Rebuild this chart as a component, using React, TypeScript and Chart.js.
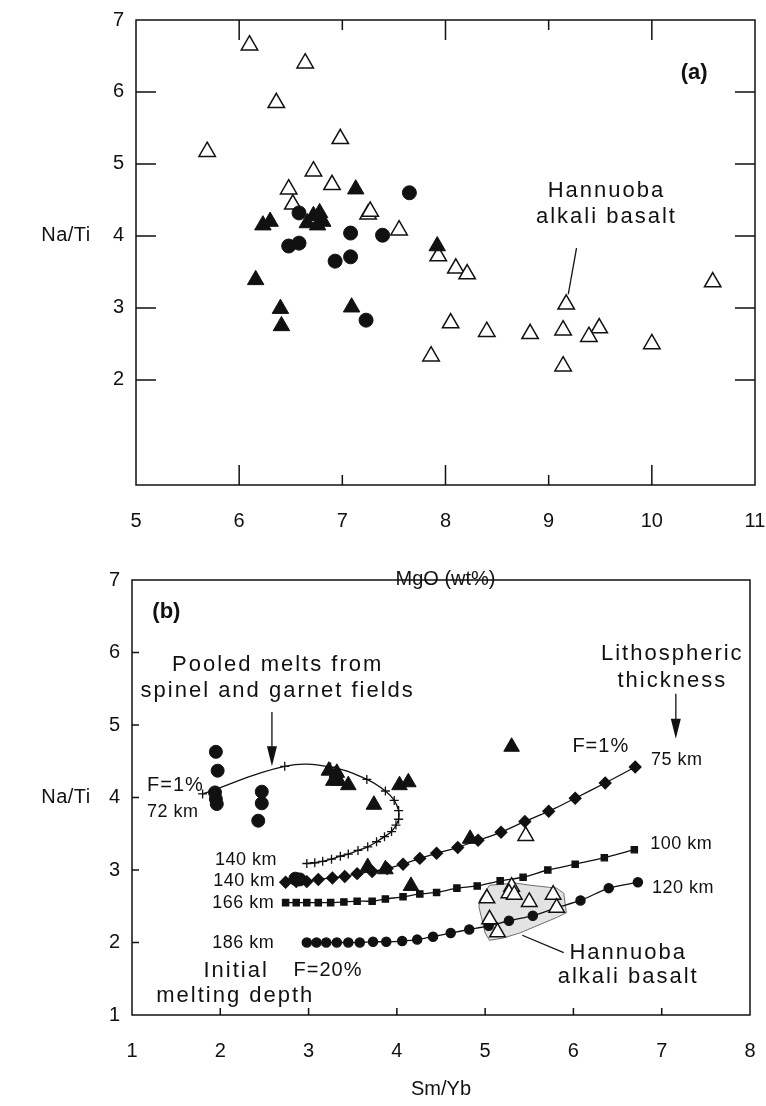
import React, { useEffect, useRef } from 'react';
import { Chart, registerables } from 'chart.js';

Chart.register(...registerables);

const FONT = '"Liberation Sans", Arial, Helvetica, sans-serif';
const INK = '#111111';

// ---------- Panel (a): Na/Ti vs MgO (wt%) ----------
const aXTicks = [5, 6, 7, 8, 9, 10, 11];
const aYTicks = [2, 3, 4, 5, 6, 7];
// Hannuoba alkali basalt (open triangles)
const aOpenTriX = [6.10, 6.64, 6.36, 5.69, 6.98, 6.72, 6.48, 6.90, 6.52, 7.25, 7.27, 7.55, 7.93, 8.10, 8.21, 9.17, 10.59, 8.05, 8.40, 8.82, 9.14, 9.49, 9.39, 10.00, 7.86, 9.14];
const aOpenTriY = [6.65, 6.40, 5.85, 5.17, 5.35, 4.90, 4.65, 4.71, 4.44, 4.30, 4.34, 4.08, 3.72, 3.55, 3.47, 3.05, 3.36, 2.79, 2.67, 2.64, 2.69, 2.72, 2.60, 2.50, 2.33, 2.19];
// filled triangles
const aFillTriX = [7.13, 6.23, 6.30, 6.66, 6.72, 6.78, 6.81, 6.76, 6.16, 6.40, 6.41, 7.09, 7.92];
const aFillTriY = [4.65, 4.15, 4.20, 4.18, 4.28, 4.32, 4.20, 4.15, 3.39, 2.99, 2.75, 3.01, 3.86];
// filled circles
const aCircX = [7.65, 6.58, 6.48, 6.58, 7.08, 7.39, 6.93, 7.08, 7.23];
const aCircY = [4.60, 4.32, 3.86, 3.90, 4.04, 4.01, 3.65, 3.71, 2.83];

// ---------- Panel (b): Na/Ti vs Sm/Yb ----------
const bXTicks = [1, 2, 3, 4, 5, 6, 7, 8];
const bYTicks = [1, 2, 3, 4, 5, 6, 7];
// pooled melts from spinel and garnet fields (crosses)
const bPoolX = [1.80, 2.73, 3.25, 3.66, 3.87, 3.97, 4.02, 4.02, 3.99, 3.94, 3.86, 3.77, 3.67, 3.56, 3.45, 3.36, 3.26, 3.16, 3.07, 2.98];
const bPoolY = [4.05, 4.43, 4.42, 4.25, 4.09, 3.96, 3.82, 3.70, 3.62, 3.53, 3.46, 3.39, 3.32, 3.27, 3.22, 3.19, 3.15, 3.12, 3.10, 3.09];
// 140 km -> 75 km (diamonds)
const bDiaX = [2.74, 2.86, 2.98, 3.11, 3.27, 3.41, 3.55, 3.72, 3.89, 4.07, 4.26, 4.45, 4.69, 4.92, 5.18, 5.45, 5.72, 6.02, 6.36, 6.70];
const bDiaY = [2.83, 2.84, 2.84, 2.87, 2.89, 2.91, 2.95, 2.98, 3.02, 3.08, 3.16, 3.23, 3.31, 3.41, 3.52, 3.67, 3.81, 3.99, 4.20, 4.42];
// 166 km -> 100 km (squares)
const bSqX = [2.74, 2.86, 2.98, 3.11, 3.25, 3.40, 3.55, 3.72, 3.87, 4.07, 4.26, 4.45, 4.68, 4.91, 5.17, 5.43, 5.71, 6.02, 6.35, 6.69];
const bSqY = [2.55, 2.55, 2.55, 2.55, 2.55, 2.56, 2.57, 2.57, 2.60, 2.63, 2.67, 2.69, 2.75, 2.78, 2.85, 2.90, 3.00, 3.08, 3.17, 3.28];
// 186 km -> 120 km (small dots)
const bDotX = [2.98, 3.09, 3.20, 3.32, 3.45, 3.58, 3.73, 3.88, 4.06, 4.23, 4.41, 4.61, 4.82, 5.04, 5.27, 5.54, 5.81, 6.08, 6.40, 6.73];
const bDotY = [2.00, 2.00, 2.00, 2.00, 2.00, 2.00, 2.01, 2.01, 2.02, 2.04, 2.08, 2.13, 2.18, 2.23, 2.30, 2.37, 2.48, 2.58, 2.75, 2.83];
// Hannuoba field outline
const bFieldX = [4.94, 5.05, 5.34, 5.51, 5.81, 5.89, 5.92, 5.82, 5.39, 5.20, 5.05, 5.00, 4.93, 4.94];
const bFieldY = [2.59, 2.79, 2.82, 2.79, 2.75, 2.68, 2.41, 2.35, 2.13, 2.06, 2.03, 2.13, 2.49, 2.59];
// samples
const bCircX = [1.95, 1.97, 1.94, 1.95, 1.96, 2.47, 2.47, 2.43, 2.85, 2.90];
const bCircY = [4.63, 4.37, 4.07, 3.98, 3.91, 4.08, 3.92, 3.68, 2.88, 2.87];
const bFillTriX = [3.23, 3.32, 3.28, 3.34, 3.45, 3.74, 4.03, 4.13, 3.67, 3.87, 4.16, 4.83, 5.30];
const bFillTriY = [4.37, 4.34, 4.23, 4.23, 4.17, 3.90, 4.17, 4.21, 3.04, 3.01, 2.78, 3.43, 4.70];
const bOpenTriX = [5.46, 5.30, 5.27, 5.33, 5.02, 5.50, 5.77, 5.81, 5.05, 5.14];
const bOpenTriY = [3.47, 2.77, 2.68, 2.66, 2.61, 2.56, 2.66, 2.48, 2.32, 2.14];

type Pt = { x: number; y: number };
const zip = (xs: number[], ys: number[]): Pt[] => xs.map((x, i) => ({ x, y: ys[i] }));

interface TextSpec { t: string; x: number; y: number; size: number; align?: CanvasTextAlign; bold?: boolean; sp?: number }
interface TickSpec { side: 'top' | 'bottom' | 'left' | 'right'; values: number[]; lens: number[] }
interface DecorSpec {
  texts: TextSpec[];
  lines: number[][][];
  arrows: { x: number; y0: number; y1: number }[];
  tickMarks: TickSpec[];
  yTitle: string;
  yTitleDx: number;
}

const decor = (spec: DecorSpec) => ({
  id: 'decor',
  afterDraw(chart: any) {
    const { ctx, chartArea: ca } = chart;
    const sx = chart.scales.x;
    const sy = chart.scales.y;
    ctx.save();
    ctx.strokeStyle = INK;
    ctx.fillStyle = INK;
    ctx.lineWidth = 1.5;
    ctx.strokeRect(ca.left, ca.top, ca.right - ca.left, ca.bottom - ca.top);
    ctx.beginPath();
    for (const tm of spec.tickMarks) {
      tm.values.forEach((v, i) => {
        const L = tm.lens[i % tm.lens.length];
        if (tm.side === 'top' || tm.side === 'bottom') {
          const px = sx.getPixelForValue(v);
          const y0 = tm.side === 'top' ? ca.top : ca.bottom;
          const y1 = tm.side === 'top' ? ca.top + L : ca.bottom - L;
          ctx.moveTo(px, y0);
          ctx.lineTo(px, y1);
        } else {
          const py = sy.getPixelForValue(v);
          const x0 = tm.side === 'left' ? ca.left : ca.right;
          const x1 = tm.side === 'left' ? ca.left + L : ca.right - L;
          ctx.moveTo(x0, py);
          ctx.lineTo(x1, py);
        }
      });
    }
    ctx.stroke();

    ctx.lineWidth = 1.3;
    for (const ln of spec.lines) {
      ctx.beginPath();
      ln.forEach(([x, y], i) => {
        const px = sx.getPixelForValue(x);
        const py = sy.getPixelForValue(y);
        if (i) ctx.lineTo(px, py); else ctx.moveTo(px, py);
      });
      ctx.stroke();
    }
    for (const a of spec.arrows) {
      const px = sx.getPixelForValue(a.x);
      const p0 = sy.getPixelForValue(a.y0);
      const p1 = sy.getPixelForValue(a.y1);
      ctx.beginPath();
      ctx.moveTo(px, p0);
      ctx.lineTo(px, p1 - 16);
      ctx.stroke();
      ctx.beginPath();
      ctx.moveTo(px - 5, p1 - 20);
      ctx.lineTo(px + 5, p1 - 20);
      ctx.lineTo(px, p1);
      ctx.closePath();
      ctx.fill();
    }
    ctx.textBaseline = 'middle';
    for (const t of spec.texts) {
      ctx.font = `${t.bold ? 'bold ' : ''}${t.size}px ${FONT}`;
      ctx.letterSpacing = `${t.sp || 0}px`;
      ctx.textAlign = t.align || 'center';
      ctx.fillText(t.t, sx.getPixelForValue(t.x), sy.getPixelForValue(t.y));
    }
    ctx.font = `20px ${FONT}`;
    ctx.letterSpacing = '0.5px';
    ctx.textAlign = 'center';
    ctx.fillText(spec.yTitle, ca.left - spec.yTitleDx, sy.getPixelForValue(4));
    ctx.restore();
  },
});

const tickFont = { family: FONT, size: 20 };

// invisible tick marks are used only to space the labels from the axis
const hiddenGrid = (len: number) => ({
  display: true,
  drawOnChartArea: false,
  drawTicks: true,
  tickLength: len,
  color: 'rgba(0,0,0,0)',
});

function axes(xMin: number, xMax: number, yMin: number, yMax: number, xTicks: number[], yTicks: number[], yWidth: number, xHeight: number, xTitle: string, titlePad: number) {
  return {
    x: {
      type: 'linear' as const,
      min: xMin,
      max: xMax,
      afterBuildTicks: (ax: any) => { ax.ticks = xTicks.map((v) => ({ value: v })); },
      afterFit: (s: any) => { s.height = xHeight; },
      grid: hiddenGrid(24),
      border: { display: false },
      ticks: { font: tickFont, color: INK, padding: 0, maxRotation: 0, autoSkip: false },
      title: { display: true, text: xTitle, font: { family: FONT, size: 20 }, color: INK, padding: { top: 0, bottom: titlePad } },
    },
    y: {
      type: 'linear' as const,
      min: yMin,
      max: yMax,
      afterBuildTicks: (ax: any) => { ax.ticks = yTicks.map((v) => ({ value: v })); },
      afterFit: (s: any) => { s.width = yWidth; },
      grid: hiddenGrid(12),
      border: { display: false },
      ticks: { font: tickFont, color: INK, padding: 0, autoSkip: false },
    },
  };
}

const scatterSet = (label: string, data: Pt[], style: string, r: number, fill: string, bw: number) => ({
  label,
  data,
  showLine: false,
  pointStyle: style,
  pointRadius: r,
  pointBackgroundColor: fill,
  pointBorderColor: INK,
  pointBorderWidth: bw,
});

const curveSet = (label: string, data: Pt[], style: string, r: number, tension: number) => ({
  label,
  data,
  showLine: true,
  tension,
  borderColor: INK,
  borderWidth: 1.3,
  pointStyle: style,
  pointRadius: r,
  pointBackgroundColor: INK,
  pointBorderColor: INK,
  pointBorderWidth: 1.3,
  fill: false,
});

const commonOpts = {
  responsive: false,
  animation: false as const,
  events: [] as any[],
  plugins: { legend: { display: false }, tooltip: { enabled: false } },
};

function configA(): any {
  return {
    type: 'line',
    data: {
      datasets: [
        scatterSet('Filled circles', zip(aCircX, aCircY), 'circle', 7, INK, 1),
        scatterSet('Filled triangles', zip(aFillTriX, aFillTriY), 'triangle', 9.5, INK, 1),
        scatterSet('Hannuoba alkali basalt', zip(aOpenTriX, aOpenTriY), 'triangle', 9.5, '#ffffff', 1.5),
      ],
    },
    options: {
      ...commonOpts,
      layout: { padding: { top: 20, right: 11, left: 0, bottom: 0 } },
      scales: axes(5, 11, 0.54, 7, aXTicks, aYTicks, 136, 125, 'MgO (wt%)', 19),
    },
    plugins: [
      decor({
        texts: [
          { t: '(a)', x: 10.41, y: 6.26, size: 22, bold: true },
          { t: 'Hannuoba', x: 9.56, y: 4.62, size: 22, sp: 2 },
          { t: 'alkali basalt', x: 9.56, y: 4.26, size: 22, sp: 2 },
        ],
        lines: [[[9.27, 3.83], [9.19, 3.19]]],
        arrows: [],
        tickMarks: [
          { side: 'top', values: [6, 7, 8, 9, 10], lens: [20, 10] },
          { side: 'bottom', values: [6, 7, 8, 9, 10], lens: [20, 10] },
          { side: 'left', values: [2, 3, 4, 5, 6], lens: [20] },
          { side: 'right', values: [2, 3, 4, 5, 6], lens: [20] },
        ],
        yTitle: 'Na/Ti',
        yTitleDx: 70,
      }),
    ],
  };
}

function configB(): any {
  return {
    type: 'line',
    data: {
      datasets: [
        scatterSet('Filled triangles', zip(bFillTriX, bFillTriY), 'triangle', 9, INK, 1),
        scatterSet('Hannuoba alkali basalt', zip(bOpenTriX, bOpenTriY), 'triangle', 9, '#ffffff', 1.5),
        scatterSet('Filled circles', zip(bCircX, bCircY), 'circle', 6.5, INK, 1),
        curveSet('Pooled melts', zip(bPoolX, bPoolY), 'cross', 4.5, 0.4),
        curveSet('140-75 km', zip(bDiaX, bDiaY), 'rectRot', 5.8, 0.2),
        curveSet('166-100 km', zip(bSqX, bSqY), 'rect', 4.4, 0.2),
        curveSet('186-120 km', zip(bDotX, bDotY), 'circle', 4.6, 0.2),
        {
          label: 'Hannuoba field',
          data: zip(bFieldX, bFieldY),
          showLine: true,
          tension: 0,
          borderColor: '#6e6e6e',
          borderWidth: 1,
          backgroundColor: '#e3e3e3',
          fill: 'shape',
          pointRadius: 0,
        },
      ],
    },
    options: {
      ...commonOpts,
      layout: { padding: { top: 20, right: 16, left: 0, bottom: 0 } },
      scales: axes(1, 8, 1, 7, bXTicks, bYTicks, 132, 91, 'Sm/Yb', 5),
    },
    plugins: [
      decor({
        texts: [
          { t: '(b)', x: 1.23, y: 6.56, size: 22, bold: true, align: 'left' },
          { t: 'Pooled melts from', x: 2.65, y: 5.83, size: 22, sp: 2 },
          { t: 'spinel and garnet fields', x: 2.65, y: 5.47, size: 22, sp: 2 },
          { t: 'Lithospheric', x: 7.12, y: 5.98, size: 22, sp: 2 },
          { t: 'thickness', x: 7.12, y: 5.61, size: 22, sp: 2 },
          { t: 'F=1%', x: 6.31, y: 4.70, size: 20, sp: 1 },
          { t: '75 km', x: 7.17, y: 4.52, size: 18, sp: 0.5 },
          { t: '100 km', x: 6.87, y: 3.36, size: 18, sp: 0.5, align: 'left' },
          { t: '120 km', x: 6.89, y: 2.75, size: 18, sp: 0.5, align: 'left' },
          { t: 'Hannuoba', x: 6.62, y: 1.86, size: 22, sp: 2 },
          { t: 'alkali basalt', x: 6.62, y: 1.52, size: 22, sp: 2 },
          { t: 'F=1%', x: 1.17, y: 4.16, size: 20, sp: 1, align: 'left' },
          { t: '72 km', x: 1.17, y: 3.80, size: 18, sp: 0.5, align: 'left' },
          { t: '140 km', x: 1.94, y: 3.14, size: 18, sp: 0.5, align: 'left' },
          { t: '140 km', x: 1.92, y: 2.85, size: 18, sp: 0.5, align: 'left' },
          { t: '166 km', x: 1.91, y: 2.54, size: 18, sp: 0.5, align: 'left' },
          { t: '186 km', x: 1.91, y: 1.99, size: 18, sp: 0.5, align: 'left' },
          { t: 'Initial', x: 2.18, y: 1.61, size: 22, sp: 2 },
          { t: 'melting depth', x: 2.17, y: 1.26, size: 22, sp: 2 },
          { t: 'F=20%', x: 3.22, y: 1.62, size: 20, sp: 1 },
        ],
        lines: [[[5.42, 2.10], [5.89, 1.86]]],
        arrows: [
          { x: 2.585, y0: 5.18, y1: 4.43 },
          { x: 7.16, y0: 5.43, y1: 4.81 },
        ],
        tickMarks: [
          { side: 'bottom', values: [2, 3, 4, 5, 6, 7], lens: [7] },
          { side: 'left', values: [2, 3, 4, 5, 6], lens: [7] },
        ],
        yTitle: 'Na/Ti',
        yTitleDx: 66,
      }),
    ],
  };
}

export default function App() {
  const refA = useRef<HTMLCanvasElement>(null);
  const refB = useRef<HTMLCanvasElement>(null);
  useEffect(() => {
    const a = new Chart(refA.current as HTMLCanvasElement, configA());
    const b = new Chart(refB.current as HTMLCanvasElement, configB());
    return () => {
      a.destroy();
      b.destroy();
    };
  }, []);
  return (
    <div style={{ position: 'absolute', left: 0, top: 0, width: 766, height: 1106, background: '#ffffff' }}>
      <canvas ref={refA} width={766} height={610} style={{ position: 'absolute', left: 0, top: 0 }} />
      <canvas ref={refB} width={766} height={546} style={{ position: 'absolute', left: 0, top: 560 }} />
    </div>
  );
}
